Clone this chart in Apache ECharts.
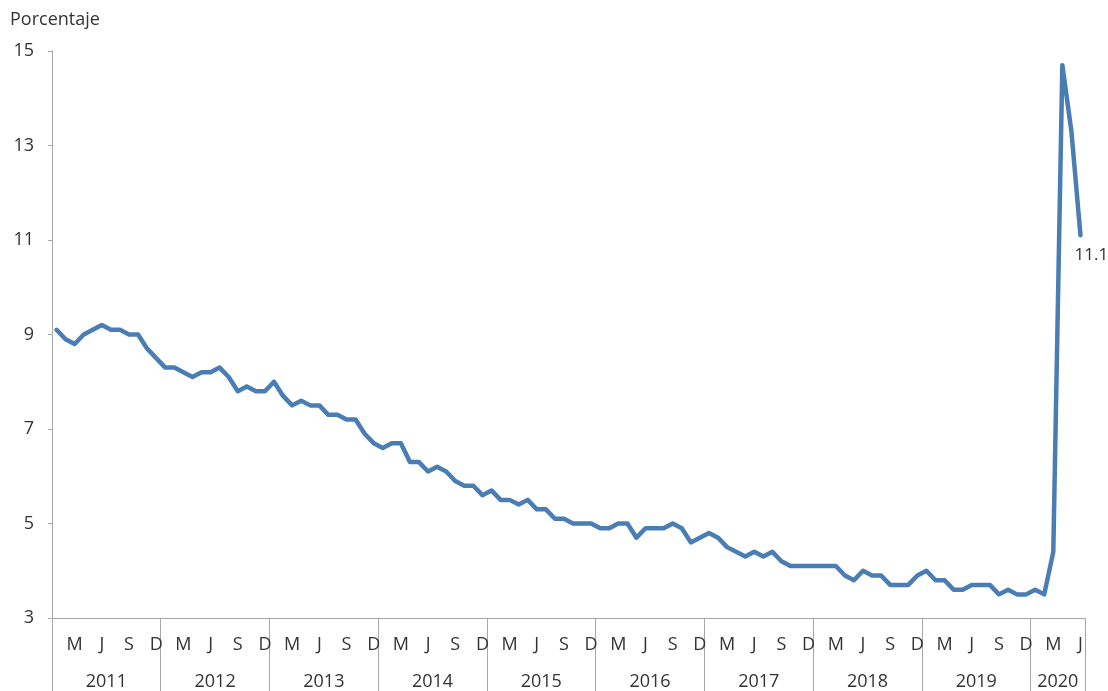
<!DOCTYPE html>
<html>
<head>
<meta charset="utf-8">
<script src="https://cdn.jsdelivr.net/npm/echarts@6/dist/echarts.min.js"></script>
<style>
  html, body { margin: 0; padding: 0; background: #fff; }
  #chart { width: 1108px; height: 691px; }
</style>
</head>
<body>
<div id="chart"></div>
<script>
// Monthly unemployment rate (percent), January 2011 to June 2020
const years = ['2011', '2012', '2013', '2014', '2015', '2016', '2017', '2018', '2019', '2020'];
const monthLetters = ['E', 'F', 'M', 'A', 'M', 'J', 'J', 'A', 'S', 'O', 'N', 'D'];

const rate2011 = [9.1, 8.9, 8.8, 9.0, 9.1, 9.2, 9.1, 9.1, 9.0, 9.0, 8.7, 8.5];
const rate2012 = [8.3, 8.3, 8.2, 8.1, 8.2, 8.2, 8.3, 8.1, 7.8, 7.9, 7.8, 7.8];
const rate2013 = [8.0, 7.7, 7.5, 7.6, 7.5, 7.5, 7.3, 7.3, 7.2, 7.2, 6.9, 6.7];
const rate2014 = [6.6, 6.7, 6.7, 6.3, 6.3, 6.1, 6.2, 6.1, 5.9, 5.8, 5.8, 5.6];
const rate2015 = [5.7, 5.5, 5.5, 5.4, 5.5, 5.3, 5.3, 5.1, 5.1, 5.0, 5.0, 5.0];
const rate2016 = [4.9, 4.9, 5.0, 5.0, 4.7, 4.9, 4.9, 4.9, 5.0, 4.9, 4.6, 4.7];
const rate2017 = [4.8, 4.7, 4.5, 4.4, 4.3, 4.4, 4.3, 4.4, 4.2, 4.1, 4.1, 4.1];
const rate2018 = [4.1, 4.1, 4.1, 3.9, 3.8, 4.0, 3.9, 3.9, 3.7, 3.7, 3.7, 3.9];
const rate2019 = [4.0, 3.8, 3.8, 3.6, 3.6, 3.7, 3.7, 3.7, 3.5, 3.6, 3.5, 3.5];
const rate2020 = [3.6, 3.5, 4.4, 14.7, 13.3, 11.1];

const yTicks = [3, 5, 7, 9, 11, 13, 15];

const ratesByYear = [rate2011, rate2012, rate2013, rate2014, rate2015,
                     rate2016, rate2017, rate2018, rate2019, rate2020];

// Flatten into one monthly series with its month-letter categories
const values = [];
const categories = [];
ratesByYear.forEach(function (arr) {
  arr.forEach(function (v, m) {
    values.push(v);
    categories.push(monthLetters[m]);
  });
});
const total = values.length;

// Centre of each year's span, in months from the start, for the year labels
const yearCenters = {};
let start = 0;
ratesByYear.forEach(function (arr, k) {
  yearCenters[start + arr.length / 2] = years[k];
  start += arr.length;
});

const textColor = '#333333';
const axisGray = '#a6a6a6';
const lineBlue = '#4a7db4';
const fontFamily = '"Open Sans", Lato, sans-serif';
const fontWeight = 'normal';

const chart = echarts.init(document.getElementById('chart'), null, { renderer: 'canvas' });

chart.setOption({
  animation: false,
  backgroundColor: '#ffffff',
  title: {
    text: 'Porcentaje',
    left: 10,
    top: 11,
    padding: 0,
    textStyle: { fontFamily: fontFamily, fontSize: 18, fontWeight: fontWeight, color: textColor }
  },
  grid: { left: 52, right: 23, top: 51, bottom: 73, containLabel: false },
  xAxis: [
    {
      type: 'category',
      data: categories,
      position: 'bottom',
      boundaryGap: true,
      axisLine: { show: true, lineStyle: { color: axisGray, width: 1 } },
      axisTick: {
        show: true,
        length: 73,
        interval: function (index) { return index % 12 === 0; },
        lineStyle: { color: axisGray, width: 1 }
      },
      axisLabel: {
        interval: function (index) { return index % 3 === 2; },
        margin: 18,
        fontFamily: fontFamily,
        fontWeight: fontWeight,
        fontSize: 18,
        color: textColor
      },
      splitLine: { show: false }
    },
    {
      type: 'value',
      position: 'bottom',
      min: 0,
      max: total,
      interval: 3,
      axisLine: { show: false },
      axisTick: { show: false },
      splitLine: { show: false },
      axisLabel: {
        margin: 55,
        fontFamily: fontFamily,
        fontWeight: fontWeight,
        fontSize: 18,
        color: textColor,
        showMinLabel: true,
        showMaxLabel: true,
        formatter: function (v) { return yearCenters[v] || ''; }
      }
    }
  ],
  yAxis: {
    type: 'value',
    min: 3,
    max: 15,
    interval: 2,
    axisLine: { show: true, lineStyle: { color: axisGray, width: 1 } },
    axisTick: { show: true, length: 4, lineStyle: { color: axisGray } },
    splitLine: { show: false },
    axisLabel: {
      margin: 18,
      fontFamily: fontFamily,
      fontWeight: fontWeight,
      fontSize: 18,
      color: textColor,
      formatter: function (v) { return yTicks.indexOf(v) >= 0 ? String(v) : ''; }
    }
  },
  series: [
    {
      type: 'line',
      xAxisIndex: 0,
      yAxisIndex: 0,
      data: values,
      showSymbol: false,
      symbol: 'none',
      lineStyle: { color: lineBlue, width: 4.5, join: 'round', cap: 'round' },
      itemStyle: { color: lineBlue },
      endLabel: {
        show: true,
        formatter: function (p) { return String(p.value); },
        offset: [-14, 20],
        fontFamily: fontFamily,
        fontWeight: fontWeight,
        fontSize: 17,
        color: textColor
      }
    }
  ]
});
</script>
</body>
</html>
